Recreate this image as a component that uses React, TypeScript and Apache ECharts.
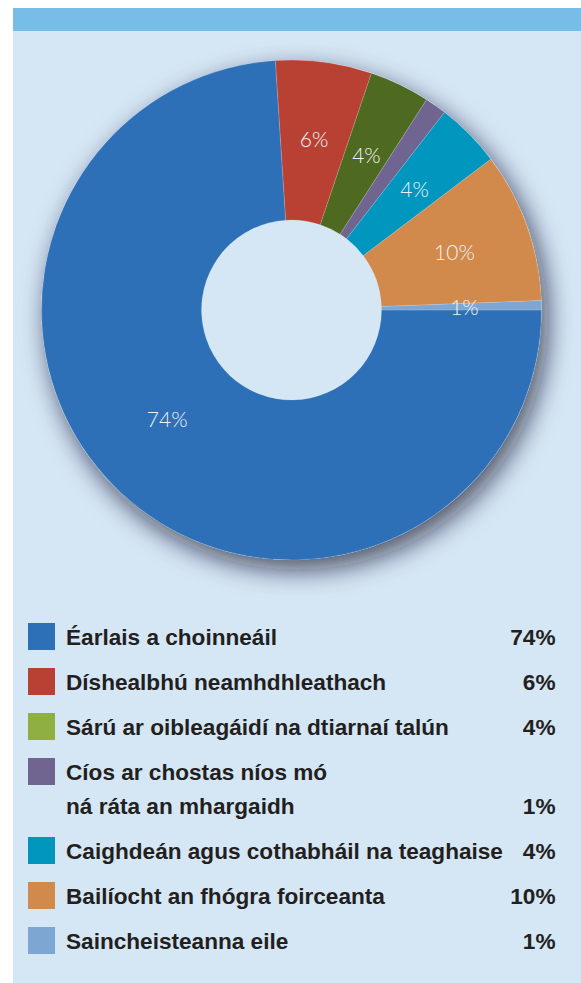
import React, { useEffect, useRef } from "react";
import * as echarts from "echarts";

const categories = [
  "Éarlais a choinneáil",
  "Díshealbhú neamhdhleathach",
  "Sárú ar oibleagáidí na dtiarnaí talún",
  "Cíos ar chostas níos mó\nná ráta an mhargaidh",
  "Caighdeán agus cothabháil na teaghaise",
  "Bailíocht an fhógra foirceanta",
  "Saincheisteanna eile",
];
const values = [73.9, 6.2, 3.9, 1.4, 4.2, 9.7, 0.6];
const sliceColors = ["#2d70b7", "#b94133", "#4e6a21", "#6f6590", "#0096be", "#d18a4b", "#7ea6d3"];
const legendColors = ["#2d70b7", "#b94133", "#8fb040", "#6f6590", "#0096be", "#d18a4b", "#7ea6d3"];

const W = 581;
const H = 983;

export default function App() {
  const ref = useRef<HTMLDivElement>(null);
  useEffect(() => {
    document.body.style.margin = "0";
    const chart = echarts.init(ref.current!, null, { renderer: "svg" });
    const pct = (v: number) => `${Math.round(v)}%`;

    const graphics: any[] = [
      { type: "rect", z: -10, shape: { x: 13, y: 8, width: W - 13, height: H - 8 }, style: { fill: "#d5e6f5" } },
      { type: "rect", z: -9, shape: { x: 13, y: 8, width: W - 13, height: 23 }, style: { fill: "#78bde8" } },
    ];
    let top = 623;
    const rowGap = 45;
    const lineH = 34;
    const legendFont = {
      fontFamily: '"Liberation Sans", Arial, sans-serif',
      fontWeight: "bold",
      fontSize: 22.6,
      fill: "#231f20",
    };
    categories.forEach((name, i) => {
      const lines = name.split("\n").length;
      const center = top + 13.5;
      graphics.push({
        type: "rect",
        shape: { x: 28, y: top, width: 27, height: 27 },
        style: { fill: legendColors[i] },
      });
      graphics.push({
        type: "text",
        x: 66,
        y: center - lineH / 2 + 1,
        style: { ...legendFont, text: name, lineHeight: lineH, align: "left", verticalAlign: "top" },
      });
      graphics.push({
        type: "text",
        x: 555.5,
        y: center + (lines - 1) * lineH + 1,
        style: { ...legendFont, text: pct(values[i]), align: "right", verticalAlign: "middle" },
      });
      top += rowGap + (lines - 1) * lineH;
    });

    chart.setOption({
      animation: false,
      backgroundColor: "#ffffff",
      graphic: { elements: graphics },
      series: [
        {
          type: "pie",
          silent: true,
          center: [291.5, 310],
          radius: [0, 250],
          label: { show: false },
          labelLine: { show: false },
          itemStyle: {
            color: "#d5e6f5",
            shadowBlur: 26,
            shadowColor: "rgba(10,20,40,0.7)",
            shadowOffsetX: 6,
            shadowOffsetY: 10,
          },
          data: [{ value: 1, name: "shadow" }],
          z: 1,
        },
        {
          type: "pie",
          center: [291.5, 310],
          radius: [90, 250],
          startAngle: 0,
          clockwise: true,
          avoidLabelOverlap: false,
          z: 3,
          itemStyle: { borderColor: "rgba(255,255,255,0.3)", borderWidth: 0.5 },
          label: {
            show: true,
            position: "inside",
            color: "#eef3f9",
            fontFamily: "Lato, sans-serif",
            fontWeight: 300,
            fontSize: 21,
            formatter: (p: any) => pct(p.value),
          },
          labelLine: { show: false },
          data: categories.map((n, i) => ({
            name: n,
            value: values[i],
            itemStyle: { color: sliceColors[i] },
            ...(i === 0
              ? {
                  label: {
                    formatter: (p: any) => pct(p.value) + "\n ",
                    lineHeight: 36,
                    padding: [0, 12, 0, 0],
                  },
                }
              : {}),
          })),
        },
      ],
    });
    return () => chart.dispose();
  }, []);
  return <div ref={ref} style={{ width: W, height: H }} />;
}
